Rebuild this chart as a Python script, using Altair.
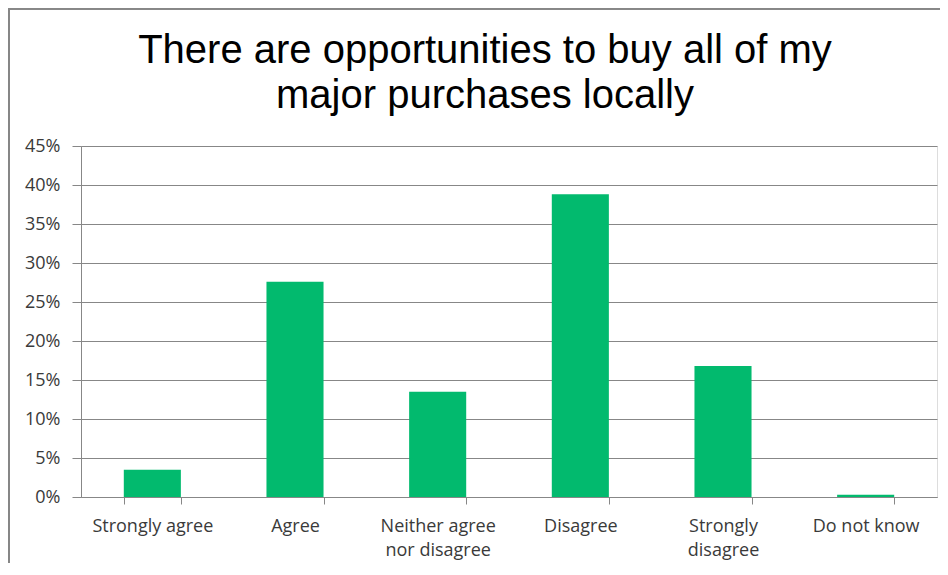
import altair as alt
import pandas as pd

# ---- data ----
categories = ["Strongly agree", "Agree", "Neither agree nor disagree",
              "Disagree", "Strongly disagree", "Do not know"]
label_lines = [["Strongly agree"], ["Agree"], ["Neither agree", "nor disagree"],
               ["Disagree"], ["Strongly", "disagree"], ["Do not know"]]
shares = [0.035, 0.276, 0.135, 0.388, 0.168, 0.003]
y_ticks = [0.0, 0.05, 0.10, 0.15, 0.20, 0.25, 0.30, 0.35, 0.40, 0.45]
title_lines = ["There are opportunities to buy all of my", "major purchases locally"]

df = pd.DataFrame({"cat": categories, "share": shares})

# label expression for wrapped category labels
parts = []
for c, lines in zip(categories, label_lines):
    if len(lines) > 1:
        arr = "[" + ",".join("'" + l + "'" for l in lines) + "]"
        parts.append(f"datum.label == '{c}' ? {arr} : ")
label_expr = "".join(parts) + "datum.label"

GRAY = "#878787"
W, H = 856, 351
LABEL_FONT = "Open Sans"

x_enc = alt.X(
    "cat:N", sort=categories, title=None,
    scale=alt.Scale(paddingInner=0.6, paddingOuter=0.3),
    axis=alt.Axis(labelAngle=0, labelExpr=label_expr, labelFont=LABEL_FONT,
                  labelFontSize=18, labelColor="#3a3a3a", labelPadding=13,
                  labelLineHeight=24, labelBaseline="top",
                  tickBand="extent", ticks=True, tickSize=7, tickColor=GRAY,
                  domainColor=GRAY, grid=False, labelLimit=300),
)
y_enc = alt.Y(
    "share:Q", title=None,
    scale=alt.Scale(domain=[0, 0.45], nice=False),
    axis=alt.Axis(values=y_ticks, format=".0%", labelFont=LABEL_FONT, labelFontSize=18,
                  labelColor="#3a3a3a", labelPadding=12, tickSize=9,
                  tickColor=GRAY, domainColor=GRAY, grid=True, gridColor=GRAY,
                  gridOpacity=1),
)

bars = alt.Chart(df).mark_bar(color="#02BA6E").encode(x=x_enc, y=y_enc)

# outer frame lines (left and top) like the reference border
frame_left = alt.Chart(df).mark_rule(color=GRAY, strokeWidth=1.5).encode(
    x=alt.value(-72.2), y=alt.value(-137.2), y2=alt.value(H + 70))
frame_top = alt.Chart(df).mark_rule(color=GRAY, strokeWidth=1.5).encode(
    x=alt.value(-72.2), x2=alt.value(W + 3), y=alt.value(-137.2))

chart = alt.layer(bars, frame_left, frame_top).properties(
    width=W, height=H,
    title=alt.Title(title_lines, font="Liberation Sans", fontSize=40,
                    fontWeight="normal", color="#000000", lineHeight=45,
                    anchor="middle", dx=-24, offset=-108),
    autosize=alt.AutoSizeParams(type="none"),
    padding={"left": 73, "top": 138, "right": 3, "bottom": 66},
).configure_view(stroke=None).configure(background="white")

chart.save("out.html", embed_options={"renderer": "svg", "actions": False})
